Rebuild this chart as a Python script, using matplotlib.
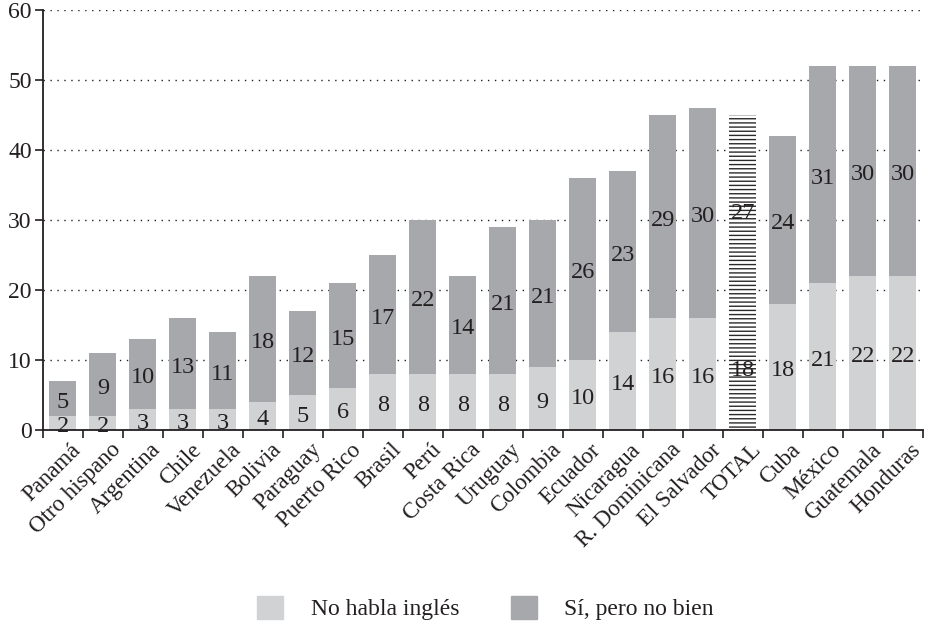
import matplotlib
matplotlib.use("Agg")
import matplotlib.pyplot as plt
import matplotlib.transforms as mtransforms
from matplotlib.patches import Patch
import numpy as np

plt.rcParams['font.family'] = ['Liberation Serif', 'DejaVu Serif']
plt.rcParams['hatch.linewidth'] = 1.0

paises = ["Panamá", "Otro hispano", "Argentina", "Chile", "Venezuela", "Bolivia",
          "Paraguay", "Puerto Rico", "Brasil", "Perú", "Costa Rica", "Uruguay",
          "Colombia", "Ecuador", "Nicaragua", "R. Dominicana", "El Salvador",
          "TOTAL", "Cuba", "México", "Guatemala", "Honduras"]
no_habla = [2, 2, 3, 3, 3, 4, 5, 6, 8, 8, 8, 8, 9, 10, 14, 16, 16, 18, 18, 21, 22, 22]
no_bien = [5, 9, 10, 13, 11, 18, 12, 15, 17, 22, 14, 21, 21, 26, 23, 29, 30, 27, 24, 31, 30, 30]

c_claro = "#d1d2d4"
c_oscuro = "#a7a8ac"
c_texto = "#231f20"

fig = plt.figure(figsize=(9.32, 6.27), dpi=100)
ax = fig.add_axes([0.046, 0.314, 0.944, 0.670])

x = np.arange(len(paises))
b1 = np.array(no_habla)
b2 = np.array(no_bien)

for i in x:
    if paises[i] == "TOTAL":
        ax.bar(i, b1[i] + b2[i], 0.67, color="white", edgecolor="#2a2a2a",
               hatch="----", linewidth=0, zorder=2)
    else:
        ax.bar(i, b1[i], 0.67, color=c_claro, linewidth=0, zorder=2)
        ax.bar(i, b2[i], 0.67, bottom=b1[i], color=c_oscuro, linewidth=0, zorder=2)
    ax.text(i, b1[i] / 2 - 0.5, str(b1[i]), ha="center", va="center",
            fontsize=17.5, color=c_texto, zorder=3)
    ax.text(i, b1[i] + b2[i] / 2 - 0.5, str(b2[i]), ha="center", va="center",
            fontsize=17.5, color=c_texto, zorder=3)

ax.set_xlim(-0.5, len(paises) - 0.5)
ax.set_ylim(0, 60)
ax.set_yticks(range(0, 61, 10))
ax.yaxis.grid(True, color=c_texto, linestyle=(0, (1, 4)), linewidth=1.0, zorder=0)
ax.set_axisbelow(True)

# ticks between the bars, names under the bar centres
ax.set_xticks(np.arange(-0.5, len(paises), 1.0))
ax.set_xticklabels([])
ax.set_xticks(x, minor=True)
ax.set_xticklabels(paises, minor=True, rotation=45, ha="right", va="center",
                   rotation_mode="anchor", fontsize=16.5, color=c_texto)
ax.tick_params(axis="x", which="minor", length=0, pad=12)
ax.tick_params(axis="x", which="major", length=6, width=1.2, color=c_texto)
ax.tick_params(axis="y", length=6, width=1.2, color=c_texto, labelsize=17,
               labelcolor=c_texto, pad=2)

offset = mtransforms.ScaledTranslation(15 / 100, 0, fig.dpi_scale_trans)
for lab in ax.get_xticklabels(minor=True):
    lab.set_transform(lab.get_transform() + offset)

for s in ["top", "right"]:
    ax.spines[s].set_visible(False)
for s in ["left", "bottom"]:
    ax.spines[s].set_color(c_texto)
    ax.spines[s].set_linewidth(1.3)

handles = [Patch(color=c_claro, label="No habla inglés"),
           Patch(color=c_oscuro, label="Sí, pero no bien")]
fig.legend(handles=handles, loc="center", bbox_to_anchor=(0.521, 0.03), ncol=2,
           frameon=False, fontsize=17, handlelength=1.1, handleheight=1.1,
           handletextpad=1.15, columnspacing=2.2, labelcolor=c_texto)

fig.savefig("out.png", dpi=100)
